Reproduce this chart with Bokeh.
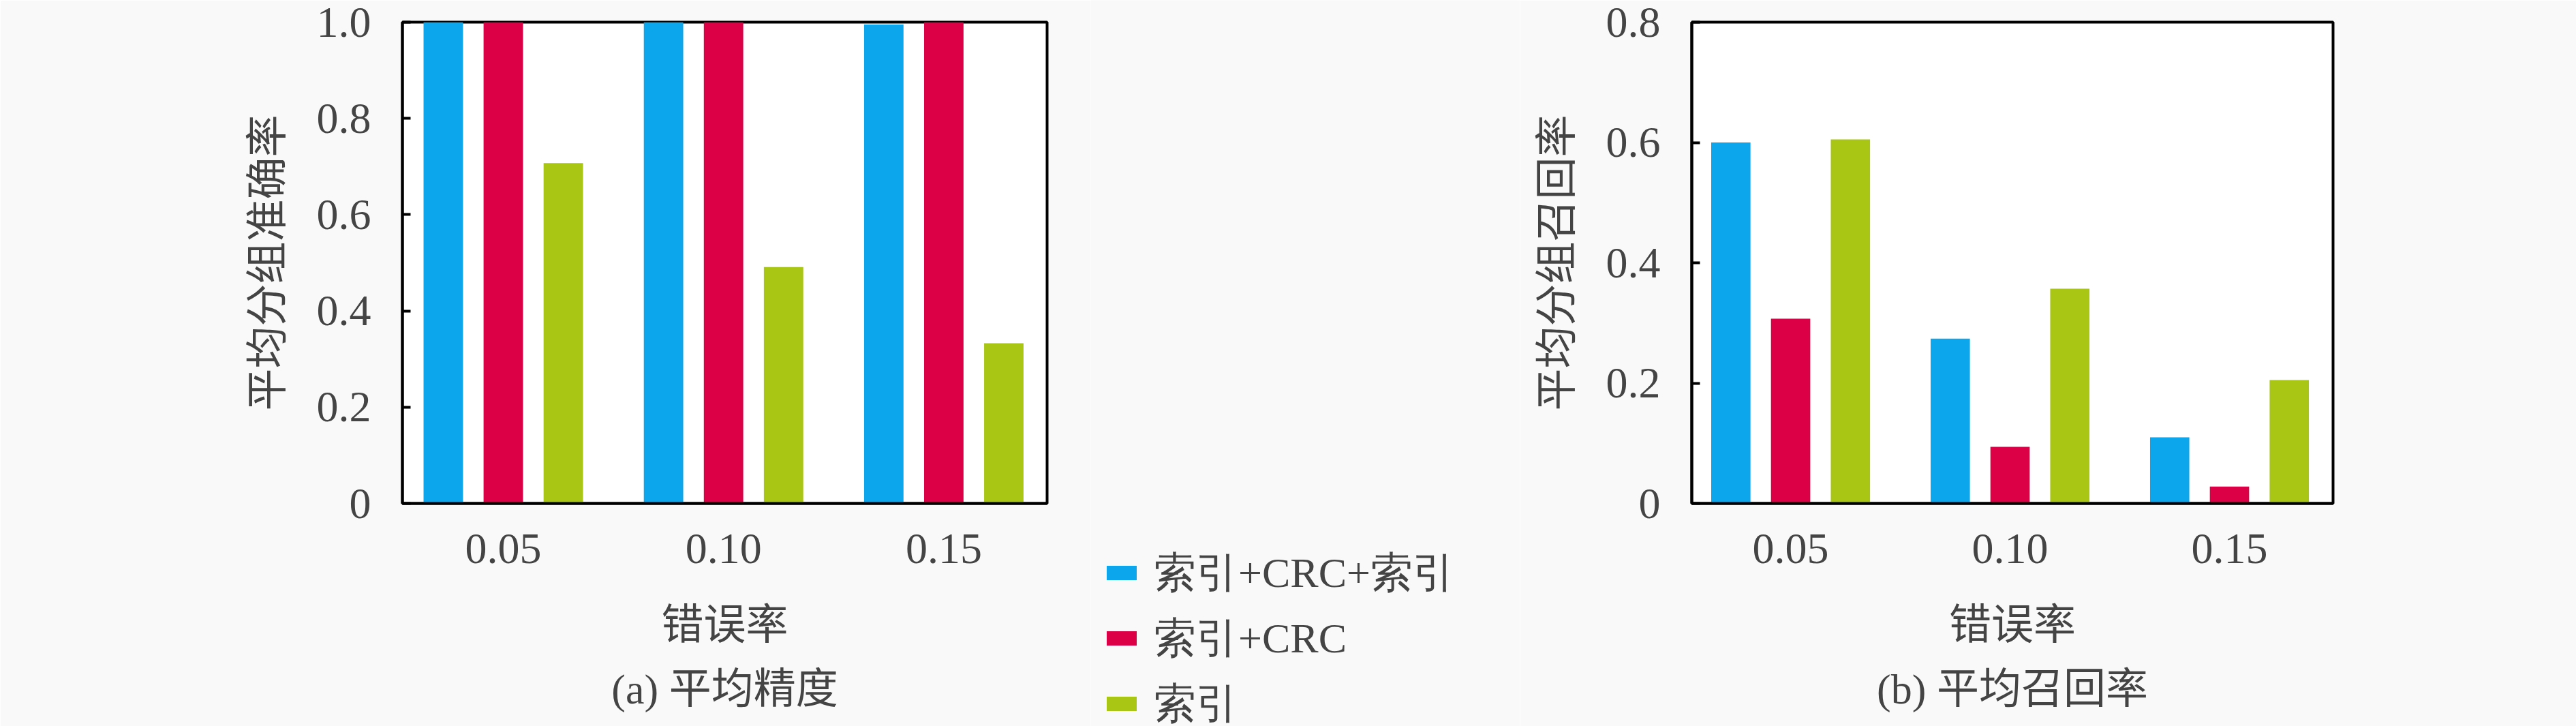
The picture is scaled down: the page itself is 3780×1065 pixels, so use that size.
from bokeh.plotting import figure
from bokeh.models import ColumnDataSource, FixedTicker, Legend, LegendItem, Title, Range1d
from bokeh.layouts import row, column
from bokeh.transform import dodge
from bokeh.embed import file_html
from bokeh.resources import INLINE

# ---------------- data ----------------
error_rates = ["0.05", "0.10", "0.15"]
group_pos = [1, 2, 3]
series_names = ["索引+CRC+索引", "索引+CRC", "索引"]
series_colors = ["#0BA6EC", "#DC0046", "#A9C614"]

precision_idx_crc_idx = [1.000, 1.000, 0.995]
precision_idx_crc = [1.000, 1.000, 1.000]
precision_idx = [0.707, 0.491, 0.333]

recall_idx_crc_idx = [0.600, 0.274, 0.110]
recall_idx_crc = [0.307, 0.094, 0.028]
recall_idx = [0.605, 0.357, 0.205]

yticks_a = [0, 0.2, 0.4, 0.6, 0.8, 1.0]
ytick_labels_a = ["0", "0.2", "0.4", "0.6", "0.8", "1.0"]
yticks_b = [0, 0.2, 0.4, 0.6, 0.8]
ytick_labels_b = ["0", "0.2", "0.4", "0.6", "0.8"]

xlabel = "错误率"
ylabel_a = "平均分组准确率"
ylabel_b = "平均分组召回率"
caption_a = "(a) 平均精度"
caption_b = "(b) 平均召回率"

SERIF = "Liberation Serif, Noto Sans CJK SC"
CJK = "Noto Sans CJK SC"
FS = "62px"
TICK_FS = "64px"
BG = "#f9f9f9"
H = 1065

offsets = [-0.2725, 0.0, 0.2725]
bar_w = 0.179


def add_bars(p, cols, visible=True):
    src = ColumnDataSource(dict(x=group_pos, s0=cols[0], s1=cols[1], s2=cols[2]))
    rs = []
    for i, key in enumerate(["s0", "s1", "s2"]):
        r = p.vbar(x=dodge("x", offsets[i]), top=key, width=bar_w, bottom=0,
                   source=src, fill_color=series_colors[i], line_color=None)
        r.visible = visible
        rs.append(r)
    return rs


def make_fig(width, xr, yr, b_left, b_right, b_top, b_bottom,
             cols, ticks, tick_labels, ylabel, caption):
    p = figure(width=width, height=H, x_range=Range1d(*xr), y_range=Range1d(*yr),
               output_backend="svg", toolbar_location=None,
               min_border_left=b_left, min_border_right=b_right,
               min_border_top=b_top, min_border_bottom=b_bottom)
    p.background_fill_color = "white"
    p.border_fill_color = BG
    p.outline_line_color = "black"
    p.outline_line_width = 4
    p.xgrid.visible = False
    p.ygrid.visible = False

    add_bars(p, cols)

    xa = p.xaxis[0]
    xa.ticker = FixedTicker(ticks=group_pos)
    xa.major_label_overrides = {g: lab for g, lab in zip(group_pos, error_rates)}
    xa.axis_line_width = 4
    xa.major_tick_line_color = None
    xa.minor_tick_line_color = None
    xa.major_label_text_font = SERIF
    xa.major_label_text_font_size = TICK_FS
    xa.major_label_standoff = 39
    xa.axis_label = xlabel
    xa.axis_label_text_font = CJK
    xa.axis_label_text_font_size = FS
    xa.axis_label_text_font_style = "normal"
    xa.axis_label_standoff = 37

    ya = p.yaxis[0]
    ya.ticker = FixedTicker(ticks=ticks)
    ya.major_label_overrides = {t: lab for t, lab in zip(ticks, tick_labels)}
    ya.axis_line_width = 4
    ya.major_tick_in = 12
    ya.major_tick_out = 0
    ya.major_tick_line_width = 4
    ya.minor_tick_line_color = None
    ya.major_label_text_font = SERIF
    ya.major_label_text_font_size = TICK_FS
    ya.major_label_standoff = 46
    ya.axis_label = ylabel
    ya.axis_label_text_font = CJK
    ya.axis_label_text_font_size = FS
    ya.axis_label_text_font_style = "normal"
    ya.axis_label_standoff = 30

    t = Title(text=caption, align="center", text_font=SERIF, text_font_size=FS,
              text_font_style="normal", standoff=32)
    p.add_layout(t, "below")
    return p


p1 = make_fig(1600, (0.542, 3.469), (0, 1.0), 590, 64, 32, 327,
              [precision_idx_crc_idx, precision_idx_crc, precision_idx],
              yticks_a, ytick_labels_a, ylabel_a, caption_a)

# legend panel between the two charts (its own frame fills the panel)
lg = figure(width=630, height=H, x_range=Range1d(0, 1), y_range=Range1d(0, 1),
            output_backend="svg", toolbar_location=None,
            x_axis_location=None, y_axis_location=None,
            min_border_left=0, min_border_right=0, min_border_top=0, min_border_bottom=0)
lg.background_fill_color = BG
lg.border_fill_color = BG
lg.outline_line_color = None
lg.xgrid.visible = False
lg.ygrid.visible = False
lg_renderers = add_bars(lg, [precision_idx_crc_idx, precision_idx_crc, precision_idx], visible=False)
legend = Legend(items=[LegendItem(label=n, renderers=[r]) for n, r in zip(series_names, lg_renderers)],
                location=(18, -9), padding=0, margin=0, spacing=12,
                glyph_width=55, glyph_height=26, label_standoff=20, label_height=20,
                label_text_font="Liberation Serif", label_text_font_size="62px",
                border_line_color=None, background_fill_alpha=0, click_policy="none")
lg.add_layout(legend)

p2 = make_fig(1550, (0.5495, 3.472), (0, 0.8), 248, 357, 31, 326,
              [recall_idx_crc_idx, recall_idx_crc, recall_idx],
              yticks_b, ytick_labels_b, ylabel_b, caption_b)

layout = row(p1, column(lg), p2, spacing=0)
open("out.html", "w").write(file_html(layout, INLINE))
